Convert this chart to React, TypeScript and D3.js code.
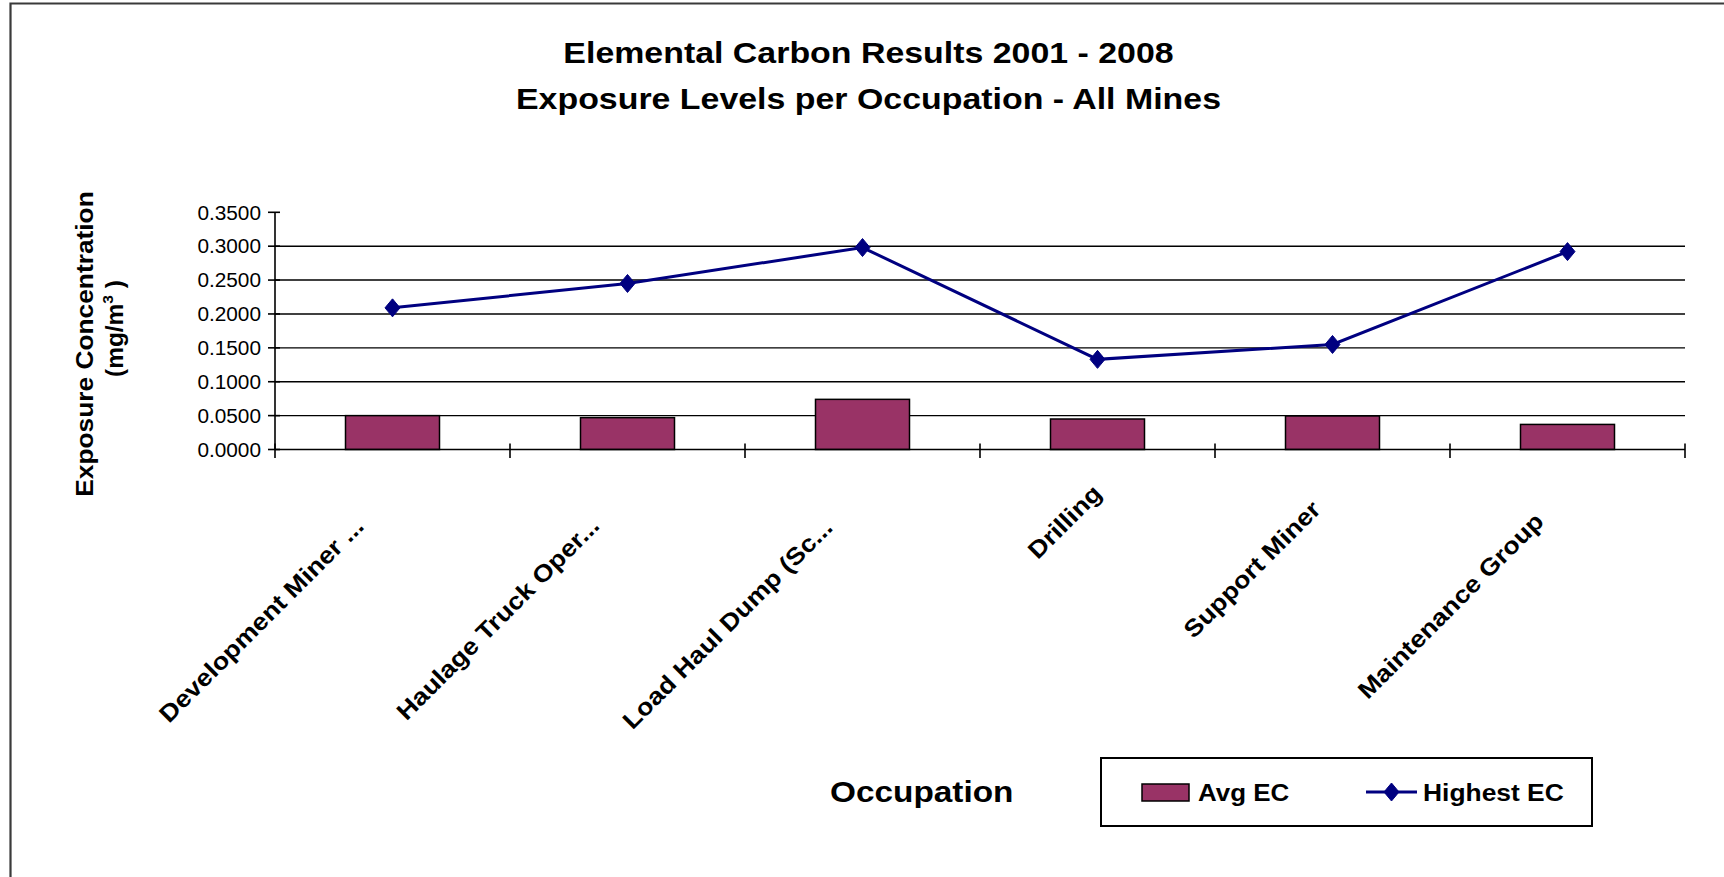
import React, { useEffect, useRef } from "react";
import * as d3 from "d3";

const categories = [
  "Development Miner ...",
  "Haulage Truck Oper...",
  "Load Haul Dump (Sc...",
  "Drilling",
  "Support Miner",
  "Maintenance Group",
];
const avgEC = [0.05, 0.047, 0.074, 0.045, 0.0495, 0.037];
const highestEC = [0.209, 0.245, 0.298, 0.133, 0.155, 0.292];
const yTicks = [0, 0.05, 0.1, 0.15, 0.2, 0.25, 0.3, 0.35];
const titleLines = [
  "Elemental Carbon Results 2001 - 2008",
  "Exposure Levels per Occupation - All Mines",
];
const seriesNames = ["Avg EC", "Highest EC"];
const yTitle = "Exposure Concentration";
const xTitle = "Occupation";

const W = 1724;
const H = 877;
const FONT = "'Liberation Sans', Arial, Helvetica, sans-serif";
const BAR = "#993366";
const LINE = "#000080";
const STRETCH = 1.12;

export default function App() {
  const ref = useRef<SVGSVGElement>(null);

  useEffect(() => {
    const svg = d3.select(ref.current as SVGSVGElement);
    svg.selectAll("*").remove();
    svg.style("font-family", FONT);

    const x0 = 275;
    const x1 = 1685;
    const yTop = 212.3;
    const yBot = 449.5;

    const x = d3
      .scaleBand<string>()
      .domain(categories)
      .range([x0, x1])
      .paddingInner(0.6)
      .paddingOuter(0.3);
    const step = x.step();
    const y = d3.scaleLinear().domain([0, 0.35]).range([yBot, yTop]);

    // outer border
    svg
      .append("path")
      .attr("d", `M10.5,${H} L10.5,3.5 L${W},3.5`)
      .attr("fill", "none")
      .attr("stroke", "#3a3a3a")
      .attr("stroke-width", 2.2);

    // titles
    titleLines.forEach((t, i) => {
      svg
        .append("text")
        .attr("transform", `translate(868.5,${63 + i * 45.5}) scale(1.13,1)`)
        .attr("text-anchor", "middle")
        .attr("font-size", 30)
        .attr("font-weight", "bold")
        .attr("fill", "#000")
        .text(t);
    });

    // gridlines
    svg
      .append("g")
      .selectAll("line")
      .data(yTicks.filter((t) => t > 0 && t < 0.35))
      .join("line")
      .attr("x1", x0)
      .attr("x2", x1)
      .attr("y1", (d) => y(d))
      .attr("y2", (d) => y(d))
      .attr("stroke", "#000")
      .attr("stroke-width", 1.4);

    // bars
    svg
      .append("g")
      .selectAll("rect")
      .data(categories)
      .join("rect")
      .attr("x", (d) => x(d)!)
      .attr("width", x.bandwidth())
      .attr("y", (d, i) => y(avgEC[i]))
      .attr("height", (d, i) => yBot - y(avgEC[i]))
      .attr("fill", BAR)
      .attr("stroke", "#000")
      .attr("stroke-width", 1.5);

    // y axis
    const ax = svg.append("g").attr("stroke", "#000").attr("stroke-width", 1.6);
    ax.append("line").attr("x1", x0).attr("x2", x0).attr("y1", yTop).attr("y2", yBot);
    yTicks.forEach((t) => {
      ax.append("line")
        .attr("x1", x0 - 7)
        .attr("x2", x0 + 5)
        .attr("y1", y(t))
        .attr("y2", y(t));
    });
    // x axis
    ax.append("line").attr("x1", x0).attr("x2", x1).attr("y1", yBot).attr("y2", yBot);
    d3.range(categories.length + 1).forEach((i) => {
      const xx = x0 + i * step;
      ax.append("line")
        .attr("x1", xx)
        .attr("x2", xx)
        .attr("y1", yBot - 6)
        .attr("y2", yBot + 8.5);
    });

    // y tick labels
    const fmt = d3.format(".4f");
    yTicks.forEach((t) => {
      svg
        .append("text")
        .attr("transform", `translate(261,${y(t)}) scale(1.04,1)`)
        .attr("text-anchor", "end")
        .attr("dy", "0.36em")
        .attr("font-size", 20)
        .attr("fill", "#000")
        .text(fmt(t));
    });

    // line series
    const cx = (c: string) => x(c)! + x.bandwidth() / 2;
    const lineGen = d3
      .line<number>()
      .x((d, i) => cx(categories[i]))
      .y((d) => y(d));
    svg
      .append("path")
      .datum(highestEC)
      .attr("d", lineGen)
      .attr("fill", "none")
      .attr("stroke", LINE)
      .attr("stroke-width", 3);
    const diamond = (px: number, py: number) =>
      `M${px},${py - 9} L${px + 7.5},${py} L${px},${py + 9} L${px - 7.5},${py} Z`;
    svg
      .append("g")
      .selectAll("path")
      .data(highestEC)
      .join("path")
      .attr("d", (d, i) => diamond(cx(categories[i]), y(d)))
      .attr("fill", LINE)
      .attr("stroke", LINE)
      .attr("stroke-width", 1);

    // category labels
    categories.forEach((c) => {
      const g = svg
        .append("g")
        .attr(
          "transform",
          `translate(${cx(c) + 25.5},${yBot + 25.5}) rotate(-45) scale(${STRETCH},1)`
        );
      const t = g
        .append("text")
        .attr("text-anchor", "end")
        .attr("font-size", 24)
        .attr("font-weight", "bold")
        .attr("fill", "#000")
        .text(c);
      const node = t.node() as SVGTextElement;
      const L = node.getComputedTextLength() * STRETCH;
      const sE = -(0.25 * L + 5);
      t.attr("x", sE / STRETCH);
    });

    // y axis title
    svg
      .append("text")
      .attr("transform", `translate(92.5,344) rotate(-90) scale(${STRETCH},1)`)
      .attr("text-anchor", "middle")
      .attr("font-size", 23.5)
      .attr("font-weight", "bold")
      .attr("fill", "#000")
      .text(yTitle);
    const t2 = svg
      .append("text")
      .attr("transform", `translate(123,328.5) rotate(-90) scale(1.04,1)`)
      .attr("text-anchor", "middle")
      .attr("font-size", 23.5)
      .attr("font-weight", "bold")
      .attr("fill", "#000");
    t2.append("tspan").text("(mg/m");
    t2.append("tspan").attr("font-size", 15).attr("dy", -10).text("3");
    t2.append("tspan").attr("dy", 10).text(" )");

    // x axis title
    svg
      .append("text")
      .attr("transform", `translate(830,802) scale(1.15,1)`)
      .attr("font-size", 29)
      .attr("font-weight", "bold")
      .attr("fill", "#000")
      .text(xTitle);

    // legend
    const lg = svg.append("g");
    lg.append("rect")
      .attr("x", 1101)
      .attr("y", 758)
      .attr("width", 491)
      .attr("height", 68)
      .attr("fill", "#fff")
      .attr("stroke", "#000")
      .attr("stroke-width", 2);
    lg.append("rect")
      .attr("x", 1142)
      .attr("y", 784)
      .attr("width", 47)
      .attr("height", 17)
      .attr("fill", BAR)
      .attr("stroke", "#000")
      .attr("stroke-width", 1.5);
    lg.append("text")
      .attr("transform", `translate(1198,800.5) scale(1.08,1)`)
      .attr("font-size", 24)
      .attr("font-weight", "bold")
      .attr("fill", "#000")
      .text(seriesNames[0]);
    lg.append("line")
      .attr("x1", 1366)
      .attr("x2", 1417)
      .attr("y1", 792)
      .attr("y2", 792)
      .attr("stroke", LINE)
      .attr("stroke-width", 3);
    lg.append("path")
      .attr("d", diamond(1391.5, 792))
      .attr("fill", LINE)
      .attr("stroke", LINE);
    lg.append("text")
      .attr("transform", `translate(1423,800.5) scale(1.1,1)`)
      .attr("font-size", 24)
      .attr("font-weight", "bold")
      .attr("fill", "#000")
      .text(seriesNames[1]);
  }, []);

  return (
    <svg
      ref={ref}
      width={W}
      height={H}
      style={{ position: "absolute", left: 0, top: 0, background: "#fff" }}
    />
  );
}
